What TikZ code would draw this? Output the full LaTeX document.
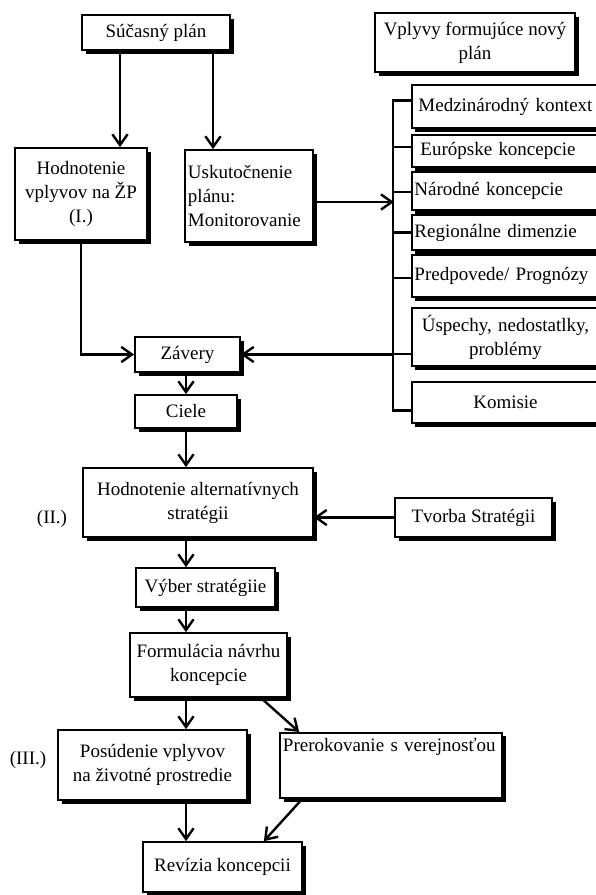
\documentclass[tikz,border=0pt]{standalone}
\usepackage{fontspec}
\setmainfont{Liberation Serif}
\usepackage{tikz}
\usetikzlibrary{arrows.meta,shadows}

\tikzset{
  box/.style={draw, line width=1.2pt, fill=white, align=center, inner sep=2pt,
    drop shadow={shadow xshift=0.09cm, shadow yshift=-0.09cm, opacity=1, fill=black}},
  side/.style={box, minimum width=4.675cm, text width=4.55cm, align=left},
  conn/.style={line width=1.7pt, -{Straight Barb[length=2.7mm, width=3.8mm, line width=1.7pt]}},
  bracket/.style={line width=1.7pt}
}

\begin{document}
\begin{tikzpicture}[x=0.025cm, y=-0.025cm, font=\fontsize{13.5}{17}\selectfont]
  \useasboundingbox (0,0) rectangle (596,895);

  % Horna cast
  \node[box, minimum width=3.7cm, minimum height=0.875cm] (sucasny) at (156,32.5) {Súčasný plán};
  \node[box, minimum width=3.3cm, minimum height=2.3cm] (hodnZP) at (81,194) {Hodnotenie\\vplyvov na ŽP\\(I.)};
  \node[box, align=left, text width=3.05cm, minimum width=3.2cm, minimum height=2.3cm] (monitor) at (249,196) {Uskutočnenie\\plánu:\\Monitorovanie};
  \node[box, minimum width=5cm, minimum height=1.475cm] (vplyvy) at (475,42.5) {Vplyvy formujúce nový\\plán};

  % Vplyvy - pravy stlpec
  \node[side, minimum height=1.075cm] (medz) at (505.5,106.5) {\hspace{0.1cm}Medzinárodný kontext};
  \node[side, minimum height=0.8cm] (europ) at (505.5,151) {\hspace{0.15cm}Európske koncepcie};
  \node[side, minimum height=0.95cm] (narod) at (505.5,191) {Národné koncepcie};
  \node[side, minimum height=0.875cm] (region) at (505.5,232.5) {Regionálne dimenzie};
  \node[side, minimum height=1.05cm] (predp) at (505.5,276) {Predpovede/ Prognózy};
  \node[side, align=center, minimum height=1.45cm] (uspech) at (505.5,337) {Úspechy, nedostatlky,\\problémy};
  \node[side, align=center, minimum height=1.025cm] (komis) at (505.5,402.5) {Komisie};

  \coordinate (brtop) at (393,100);
  \coordinate (brbot) at (393,410);
  \draw[bracket] (brtop) -- (brbot);
  \foreach \b/\d in {medz/-6, europ/-4, narod/1, region/0, predp/2, uspech/17, komis/8}
    \draw[bracket] (\b.west) ++(0,\d) -- ++(-19,0);

  % Spojenia hore
  \draw[conn] ([xshift=-0.9cm]sucasny.south) -- ([xshift=-0.9cm]sucasny.south |- hodnZP.north);
  \draw[conn] ([xshift=1.425cm]sucasny.south) -- ([xshift=1.425cm]sucasny.south |- monitor.north);
  \draw[conn] ([yshift=-0.15cm]monitor.east) -- ++(80,0);

  % Stred
  \node[box, minimum width=2.625cm, minimum height=0.875cm] (zavery) at (187.5,354.5) {Závery};
  \node[box, minimum width=2.55cm, minimum height=0.825cm] (ciele) at (186,411.5) {Ciele};
  \node[box, minimum width=5.75cm, minimum height=1.725cm] (strateg) at (198,502.5) {Hodnotenie alternatívnych\\stratégii};
  \node (lab2) at (52,519) {(II.)};
  \node[box, minimum width=3.925cm, minimum height=0.975cm] (tvorba) at (473.5,517.5) {Tvorba Stratégii};
  \node[box, minimum width=3.475cm, minimum height=0.975cm] (vyber) at (205.5,587.5) {Výber stratégiie};
  \node[box, minimum width=3.925cm, minimum height=1.6cm] (formul) at (208.5,665) {Formulácia návrhu\\koncepcie};

  \draw[conn] (hodnZP.south) |- (zavery.west);
  \draw[conn] (zavery.east -| brtop) -- (zavery.east);
  \draw[conn] (zavery.south -| ciele.south) -- (ciele.north);
  \draw[conn] (ciele.south) -- (ciele.south |- strateg.north);
  \draw[conn] (tvorba.west) -- (tvorba.west -| strateg.east);
  \draw[conn] (strateg.south -| ciele.south) -- (vyber.north -| ciele.south);
  \draw[conn] (vyber.south -| ciele.south) -- (formul.north -| ciele.south);

  % Dolna cast
  \node[box, minimum width=4.725cm, minimum height=1.75cm] (posud) at (152.5,765) {Posúdenie vplyvov\\na životné prostredie};
  \node (lab3) at (28,760) {(III.)};
  \node[box, anchor=north, align=left, text width=5.4cm, minimum width=5.55cm,
        text height=9.5pt, text depth=29pt, inner ysep=4pt] (prerok) at (391,732) {Prerokovanie s verejnosťou};
  \node[box, minimum width=3.975cm, minimum height=1.25cm] (revizia) at (222.5,867) {Revízia koncepcii};

  \draw[conn] (formul.south -| ciele.south) -- (posud.north -| ciele.south);
  \draw[conn] ([xshift=-0.675cm]formul.south east) -- ([xshift=0.5cm]prerok.north west);
  \draw[conn] (posud.south -| ciele.south) -- (revizia.north -| ciele.south);
  \draw[conn] ([xshift=0.575cm]prerok.south west) -- ([xshift=-0.975cm]revizia.north east);
\end{tikzpicture}
\end{document}
